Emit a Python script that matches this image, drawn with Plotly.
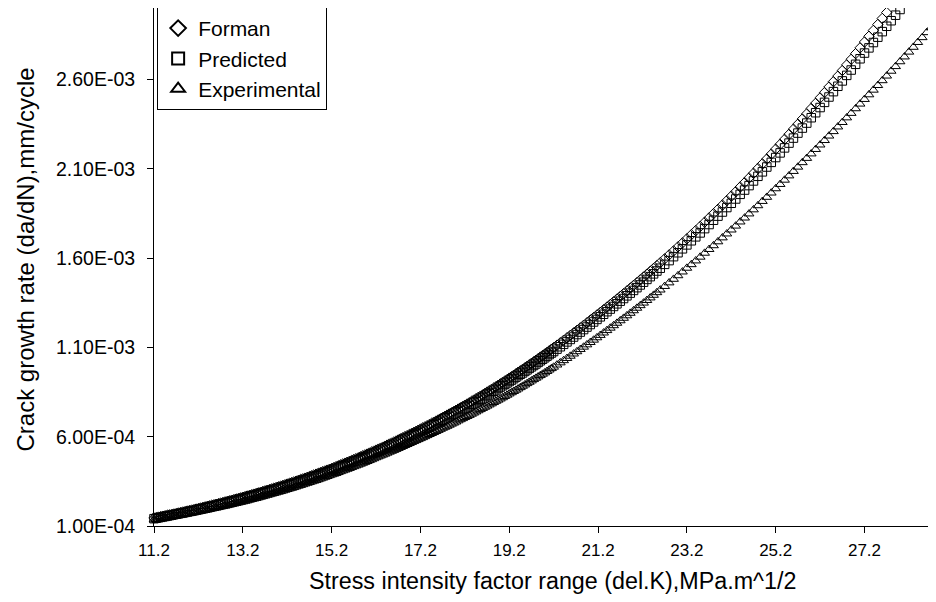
import plotly.graph_objects as go

# Stress intensity factor range (del.K), MPa.m^1/2  (sampling gets sparser as del.K grows, as in the source)
delta_k = [
    11.2, 11.25, 11.3, 11.35, 11.4, 11.45, 11.5, 11.55, 11.6, 11.65, 11.7, 11.75, 11.8, 11.85, 11.9, 11.95, 12.0, 12.05, 12.1, 12.15,
    12.2, 12.25, 12.3, 12.35, 12.4, 12.45, 12.5, 12.55, 12.6, 12.65, 12.7, 12.75, 12.8, 12.85, 12.9, 12.95, 13.0, 13.05, 13.1, 13.15,
    13.2, 13.25, 13.3, 13.35, 13.4, 13.45, 13.5, 13.55, 13.6, 13.65, 13.7, 13.75, 13.8, 13.85, 13.9, 13.95, 14.0, 14.05, 14.1, 14.15,
    14.2, 14.25, 14.3, 14.35, 14.4, 14.45, 14.5, 14.55, 14.6, 14.65, 14.7, 14.75, 14.8, 14.85, 14.9, 14.95, 15.0, 15.05, 15.1, 15.15,
    15.2, 15.25, 15.3, 15.35, 15.4, 15.45, 15.5, 15.55, 15.6, 15.65, 15.7, 15.75, 15.8, 15.85, 15.9, 15.95, 16.0, 16.05, 16.1, 16.15,
    16.2, 16.25, 16.3, 16.35, 16.4, 16.45, 16.5, 16.55, 16.6, 16.65, 16.7, 16.75, 16.8, 16.85, 16.9, 16.95, 17.0, 17.05, 17.1, 17.15,
    17.2, 17.25, 17.3, 17.35, 17.4, 17.45, 17.5, 17.55, 17.6, 17.65, 17.7, 17.75, 17.8, 17.85, 17.9, 17.95, 18.0, 18.05, 18.1, 18.15,
    18.2, 18.25, 18.3, 18.35, 18.4, 18.45, 18.5, 18.55, 18.6, 18.65, 18.7, 18.75, 18.8, 18.85, 18.9, 18.95, 19.0, 19.05, 19.1, 19.15,
    19.2, 19.25, 19.3, 19.35, 19.4, 19.45, 19.5, 19.55, 19.6, 19.65, 19.7, 19.75, 19.8, 19.85, 19.9, 19.95, 20.0, 20.05, 20.1, 20.15,
    20.2, 20.275, 20.35, 20.425, 20.5, 20.575, 20.65, 20.725, 20.8, 20.875, 20.95, 21.025, 21.1, 21.175, 21.25, 21.325,
    21.4, 21.475, 21.55, 21.625, 21.7, 21.775, 21.85, 21.925, 22.0, 22.075, 22.15, 22.225, 22.3, 22.375, 22.45, 22.525, 22.6,
    22.7, 22.8, 22.9, 23.0, 23.1, 23.2,
    23.3, 23.4, 23.5, 23.6, 23.7, 23.8, 23.9, 24.0, 24.1, 24.2,
    24.3, 24.4, 24.5, 24.6, 24.7, 24.8, 24.9, 25.0, 25.1, 25.2,
    25.3, 25.4, 25.5, 25.6, 25.7, 25.8, 25.9, 26.0, 26.1, 26.2,
    26.3, 26.4, 26.5, 26.6, 26.7, 26.8, 26.9, 27.0, 27.1, 27.2,
    27.3, 27.4, 27.5, 27.6, 27.7, 27.8, 27.9, 28.0, 28.1, 28.2,
    28.3, 28.4, 28.5, 28.6, 28.7, 28.8, 28.9,
]

# Crack growth rate, in units of 1E-03 mm/cycle
forman_e3 = [
    0.145, 0.1475, 0.150, 0.1525, 0.155, 0.1575, 0.160, 0.1625, 0.165, 0.1675, 0.170, 0.173, 0.176, 0.1785, 0.181, 0.184, 0.187, 0.1895, 0.192, 0.195,
    0.198, 0.201, 0.204, 0.207, 0.210, 0.213, 0.216, 0.219, 0.222, 0.225, 0.228, 0.2315, 0.235, 0.238, 0.241, 0.2445, 0.248, 0.251, 0.254, 0.2575,
    0.261, 0.2645, 0.268, 0.2715, 0.275, 0.2785, 0.282, 0.2855, 0.289, 0.293, 0.297, 0.3005, 0.304, 0.308, 0.312, 0.3155, 0.319, 0.323, 0.327, 0.331,
    0.335, 0.339, 0.343, 0.347, 0.351, 0.3555, 0.360, 0.364, 0.368, 0.3725, 0.377, 0.3815, 0.386, 0.3905, 0.395, 0.3995, 0.404, 0.4085, 0.413, 0.4175,
    0.422, 0.427, 0.432, 0.437, 0.442, 0.447, 0.452, 0.457, 0.462, 0.467, 0.472, 0.477, 0.482, 0.4875, 0.493, 0.498, 0.503, 0.5085, 0.514, 0.5195,
    0.525, 0.5305, 0.536, 0.5415, 0.547, 0.553, 0.559, 0.5645, 0.570, 0.576, 0.582, 0.588, 0.594, 0.600, 0.606, 0.612, 0.618, 0.624, 0.630, 0.6365,
    0.643, 0.649, 0.655, 0.6615, 0.668, 0.6745, 0.681, 0.6875, 0.694, 0.7005, 0.707, 0.714, 0.721, 0.7275, 0.734, 0.741, 0.748, 0.755, 0.762, 0.769,
    0.776, 0.783, 0.790, 0.7975, 0.805, 0.8125, 0.820, 0.827, 0.834, 0.842, 0.850, 0.8575, 0.865, 0.8725, 0.880, 0.888, 0.896, 0.904, 0.912, 0.920,
    0.928, 0.936, 0.944, 0.9525, 0.961, 0.969, 0.977, 0.9855, 0.994, 1.0025, 1.011, 1.0195, 1.028, 1.037, 1.046, 1.0545, 1.063, 1.072, 1.081, 1.090,
    1.099, 1.1125, 1.1262, 1.1399, 1.1537, 1.1676, 1.1815, 1.1956, 1.2097, 1.2239, 1.2382, 1.2526, 1.2671, 1.2816, 1.2963, 1.3110,
    1.3258, 1.3407, 1.3557, 1.3707, 1.3859, 1.4011, 1.4164, 1.4318, 1.4473, 1.4629, 1.4785, 1.4943, 1.5101, 1.5260, 1.5421, 1.5582, 1.5744,
    1.596, 1.618, 1.640, 1.663, 1.685, 1.708,
    1.731, 1.754, 1.777, 1.801, 1.825, 1.849, 1.873, 1.897, 1.922, 1.947,
    1.972, 1.998, 2.023, 2.049, 2.075, 2.102, 2.128, 2.155, 2.182, 2.210,
    2.237, 2.265, 2.293, 2.322, 2.350, 2.379, 2.408, 2.438, 2.467, 2.497,
    2.527, 2.558, 2.588, 2.619, 2.650, 2.682, 2.713, 2.745, 2.777, 2.810,
    2.842, 2.875, 2.908, 2.942, 2.975,
]

predicted_e3 = [
    0.141, 0.1435, 0.146, 0.1485, 0.151, 0.1535, 0.156, 0.1585, 0.161, 0.1635, 0.166, 0.1685, 0.171, 0.1735, 0.176, 0.179, 0.182, 0.1845, 0.187, 0.190,
    0.193, 0.196, 0.199, 0.202, 0.205, 0.208, 0.211, 0.214, 0.217, 0.220, 0.223, 0.226, 0.229, 0.232, 0.235, 0.2385, 0.242, 0.245, 0.248, 0.2515,
    0.255, 0.2585, 0.262, 0.2655, 0.269, 0.2725, 0.276, 0.2795, 0.283, 0.2865, 0.290, 0.2935, 0.297, 0.301, 0.305, 0.3085, 0.312, 0.3155, 0.319, 0.323,
    0.327, 0.331, 0.335, 0.339, 0.343, 0.3475, 0.352, 0.356, 0.360, 0.364, 0.368, 0.3725, 0.377, 0.3815, 0.386, 0.3905, 0.395, 0.3995, 0.404, 0.4085,
    0.413, 0.418, 0.423, 0.4275, 0.432, 0.437, 0.442, 0.447, 0.452, 0.457, 0.462, 0.4665, 0.471, 0.4765, 0.482, 0.487, 0.492, 0.4975, 0.503, 0.508,
    0.513, 0.5185, 0.524, 0.5295, 0.535, 0.541, 0.547, 0.552, 0.557, 0.563, 0.569, 0.575, 0.581, 0.587, 0.593, 0.599, 0.605, 0.6105, 0.616, 0.6225,
    0.629, 0.635, 0.641, 0.6475, 0.654, 0.6605, 0.667, 0.673, 0.679, 0.6855, 0.692, 0.699, 0.706, 0.7125, 0.719, 0.726, 0.733, 0.7395, 0.746, 0.753,
    0.760, 0.767, 0.774, 0.7815, 0.789, 0.796, 0.803, 0.810, 0.817, 0.825, 0.833, 0.840, 0.847, 0.8545, 0.862, 0.870, 0.878, 0.8855, 0.893, 0.901,
    0.909, 0.917, 0.925, 0.9335, 0.942, 0.9495, 0.957, 0.9655, 0.974, 0.9825, 0.991, 0.999, 1.007, 1.016, 1.025, 1.0335, 1.042, 1.051, 1.060, 1.0685,
    1.077, 1.0903, 1.1037, 1.1172, 1.1308, 1.1445, 1.1581, 1.1720, 1.1859, 1.1999, 1.2139, 1.2281, 1.2424, 1.2567, 1.2711, 1.2855,
    1.3000, 1.3146, 1.3293, 1.3440, 1.3589, 1.3738, 1.3888, 1.4039, 1.4191, 1.4344, 1.4497, 1.4652, 1.4806, 1.4961, 1.5118, 1.5276, 1.5434,
    1.565, 1.586, 1.608, 1.630, 1.652, 1.674,
    1.697, 1.719, 1.741, 1.765, 1.788, 1.812, 1.835, 1.858, 1.883, 1.907,
    1.931, 1.957, 1.981, 2.006, 2.032, 2.058, 2.083, 2.110, 2.136, 2.163,
    2.189, 2.217, 2.244, 2.272, 2.300, 2.328, 2.356, 2.386, 2.414, 2.443,
    2.472, 2.502, 2.532, 2.562, 2.592, 2.623, 2.653, 2.685, 2.716, 2.748,
    2.777, 2.807, 2.837, 2.868, 2.898, 2.929, 2.960, 2.992, 3.023,
]

experimental_e3 = [
    0.135, 0.137, 0.139, 0.141, 0.143, 0.145, 0.147, 0.1495, 0.152, 0.154, 0.156, 0.1585, 0.161, 0.163, 0.165, 0.1675, 0.170, 0.1725, 0.175, 0.1775,
    0.180, 0.1825, 0.185, 0.1875, 0.190, 0.193, 0.196, 0.1985, 0.201, 0.204, 0.207, 0.2095, 0.212, 0.215, 0.218, 0.221, 0.224, 0.227, 0.230, 0.233,
    0.236, 0.239, 0.242, 0.2455, 0.249, 0.252, 0.255, 0.2585, 0.262, 0.2655, 0.269, 0.2725, 0.276, 0.2795, 0.283, 0.2865, 0.290, 0.2935, 0.297, 0.301,
    0.305, 0.3085, 0.312, 0.316, 0.320, 0.324, 0.328, 0.332, 0.336, 0.340, 0.344, 0.348, 0.352, 0.356, 0.360, 0.3645, 0.369, 0.3735, 0.378, 0.3825,
    0.387, 0.391, 0.395, 0.400, 0.405, 0.4095, 0.414, 0.4185, 0.423, 0.428, 0.433, 0.4375, 0.442, 0.447, 0.452, 0.457, 0.462, 0.467, 0.472, 0.4775,
    0.483, 0.488, 0.493, 0.498, 0.503, 0.5085, 0.514, 0.519, 0.524, 0.5295, 0.535, 0.5405, 0.546, 0.5515, 0.557, 0.5625, 0.568, 0.5735, 0.579, 0.5845,
    0.590, 0.5955, 0.601, 0.607, 0.613, 0.6185, 0.624, 0.630, 0.636, 0.642, 0.648, 0.6535, 0.659, 0.665, 0.671, 0.677, 0.683, 0.6895, 0.696, 0.702,
    0.708, 0.714, 0.720, 0.7265, 0.733, 0.7395, 0.746, 0.7525, 0.759, 0.7655, 0.772, 0.7785, 0.785, 0.792, 0.799, 0.8055, 0.812, 0.819, 0.826, 0.833,
    0.840, 0.847, 0.854, 0.861, 0.868, 0.8755, 0.883, 0.8905, 0.898, 0.9055, 0.913, 0.9205, 0.928, 0.9355, 0.943, 0.9505, 0.958, 0.966, 0.974, 0.982,
    0.990, 1.0021, 1.0142, 1.0265, 1.0388, 1.0513, 1.0638, 1.0765, 1.0892, 1.1021, 1.1151, 1.1281, 1.1413, 1.1546, 1.1679, 1.1814,
    1.1949, 1.2085, 1.2222, 1.2359, 1.2498, 1.2637, 1.2777, 1.2917, 1.3059, 1.3201, 1.3344, 1.3488, 1.3633, 1.3778, 1.3925, 1.4072, 1.4220,
    1.442, 1.462, 1.482, 1.502, 1.523, 1.544,
    1.564, 1.585, 1.606, 1.628, 1.649, 1.670, 1.692, 1.714, 1.736, 1.758,
    1.780, 1.803, 1.825, 1.848, 1.871, 1.894, 1.918, 1.941, 1.965, 1.989,
    2.013, 2.037, 2.061, 2.086, 2.110, 2.135, 2.159, 2.184, 2.209, 2.234,
    2.259, 2.284, 2.309, 2.335, 2.360, 2.386, 2.411, 2.437, 2.463, 2.489,
    2.515, 2.541, 2.567, 2.594, 2.620, 2.647, 2.673, 2.700, 2.727, 2.754,
    2.781, 2.808, 2.835, 2.863, 2.890, 2.918, 2.945,
]

y_tick_values = [1.0e-4, 6.0e-4, 1.1e-3, 1.6e-3, 2.1e-3, 2.6e-3]
y_tick_labels = ["1.00E-04", "6.00E-04", "1.10E-03", "1.60E-03", "2.10E-03", "2.60E-03"]
x_tick_values = [11.2, 13.2, 15.2, 17.2, 19.2, 21.2, 23.2, 25.2, 27.2]
x_tick_labels = ["11.2", "13.2", "15.2", "17.2", "19.2", "21.2", "23.2", "25.2", "27.2"]

series = [
    ("Forman", forman_e3, "diamond-open", 8),
    ("Predicted", predicted_e3, "square-open", 8.5),
    ("Experimental", experimental_e3, "triangle-up-open", 8.5),
]

FONT = "Liberation Sans, Arial, sans-serif"

fig = go.Figure()
for i, (name, vals, sym, size) in enumerate(series):
    fig.add_trace(go.Scatter(
        x=delta_k[:len(vals)],
        y=[v * 1e-3 for v in vals],
        mode="markers",
        name=name,
        legendgroup=f"g{i}",
        cliponaxis=False,
        marker=dict(symbol=sym, size=size, color="black", line=dict(width=1, color="black")),
    ))

# The page body adds an 8px offset; the figure is sized so the plot area lands where the source has it.
fig.update_layout(
    width=928,
    height=594,
    margin=dict(l=146, r=0, t=0, b=76, autoexpand=False),
    paper_bgcolor="white",
    plot_bgcolor="white",
    font=dict(family=FONT, color="black"),
    showlegend=True,
    legend=dict(
        x=0.004, y=1.002, xanchor="left", yanchor="top",
        bgcolor="white", bordercolor="black", borderwidth=1,
        font=dict(size=21, family=FONT, color="black"),
        traceorder="grouped", tracegroupgap=0,
        itemsizing="constant",
    ),
    xaxis=dict(
        range=[11.2, 28.81],
        tickmode="array", tickvals=x_tick_values, ticktext=x_tick_labels,
        ticks="outside", ticklen=6, tickwidth=1, tickcolor="black",
        showline=True, linecolor="black", linewidth=1,
        showgrid=False, zeroline=False, automargin=False,
        tickfont=dict(size=17, family=FONT, color="black"),
        ticklabelstandoff=3,
    ),
    yaxis=dict(
        range=[1.0e-4, 3.0003e-3],
        tickmode="array", tickvals=y_tick_values, ticktext=y_tick_labels,
        ticks="outside", ticklen=6, tickwidth=1, tickcolor="black",
        showline=True, linecolor="black", linewidth=1,
        showgrid=False, zeroline=False, automargin=False,
        tickfont=dict(size=19.5, family=FONT, color="black"),
        ticklabelstandoff=8,
    ),
    annotations=[
        dict(
            text="Stress intensity factor range (del.K),MPa.m^1/2",
            xref="paper", yref="paper", x=0.5102, y=-0.1062,
            xanchor="center", yanchor="middle", showarrow=False,
            font=dict(size=23.3, family=FONT, color="black"),
        ),
        dict(
            text="Crack growth rate (da/dN),mm/cycle",
            xref="paper", yref="paper", x=-0.1637, y=0.5145,
            xanchor="center", yanchor="middle", showarrow=False, textangle=-90,
            font=dict(size=24, family=FONT, color="black"),
        ),
    ],
)

fig.write_html("out.html")
